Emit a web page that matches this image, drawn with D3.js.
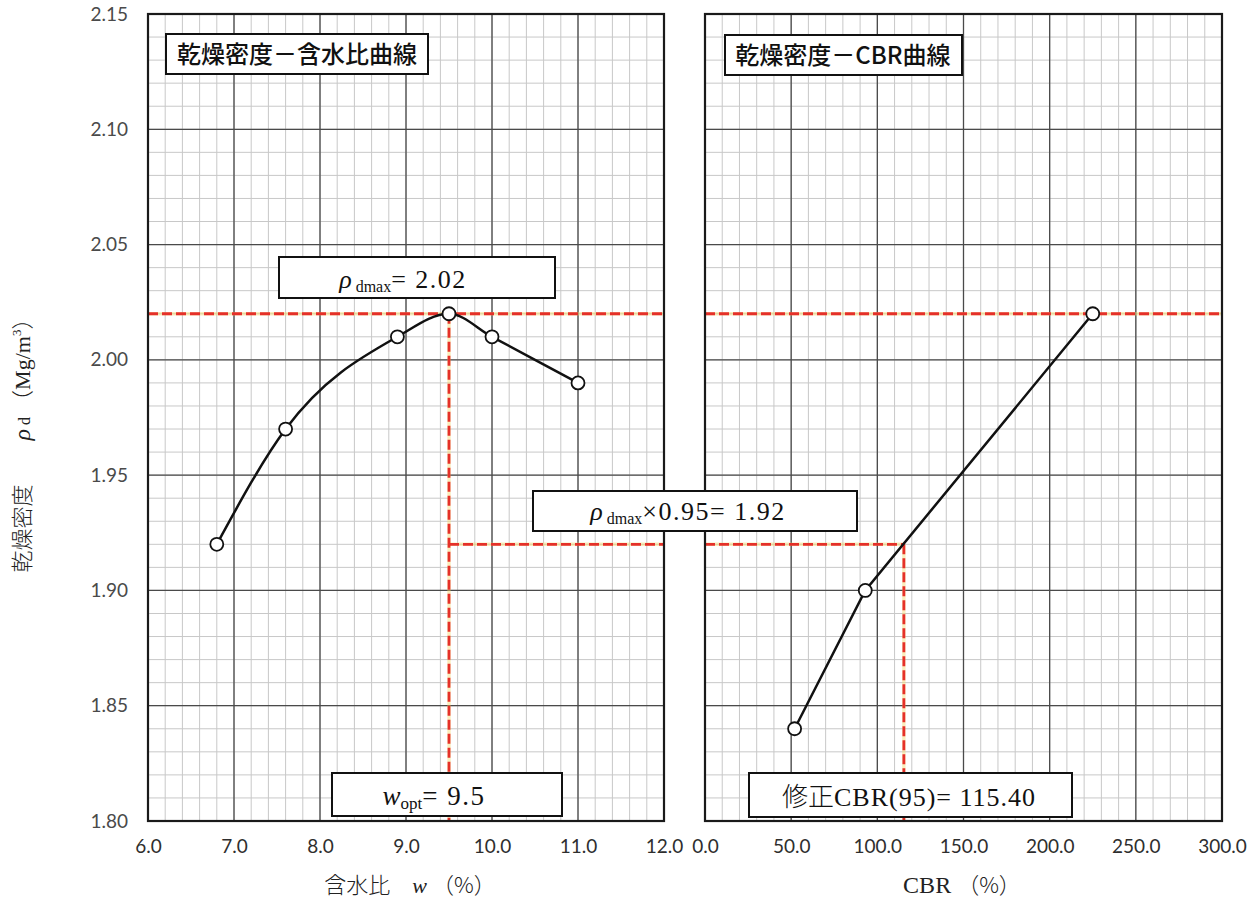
<!DOCTYPE html>
<html><head><meta charset="utf-8">
<script src="https://cdn.jsdelivr.net/npm/d3@7"></script>
<style>
body{margin:0;background:#fff}
svg{display:block}
</style></head><body>
<svg id="chart" width="1255" height="899"></svg>
<script>
// Compaction test: dry density vs water content, and dry density vs CBR
const waterContent = [6.8, 7.6, 8.9, 9.5, 10.0, 11.0];
const densityByWater = [1.92, 1.97, 2.01, 2.02, 2.01, 1.99];
const cbrValues = [52.0, 93.0, 225.0];
const densityByCbr = [1.84, 1.90, 2.02];
const waterTicks = [6, 7, 8, 9, 10, 11, 12];
const cbrTicks = [0, 50, 100, 150, 200, 250, 300];
const densityTicks = [1.80, 1.85, 1.90, 1.95, 2.00, 2.05, 2.10, 2.15];
const rhoDmax = 2.02;
const wOpt = 9.5;
const rho95 = 1.92;
const cbr95 = 115.40;

const serif = "'Liberation Serif','DejaVu Serif',serif";
const cjk = "'Noto Sans CJK JP','Noto Sans CJK SC',sans-serif";
const tickFont = "Lato,'Open Sans',sans-serif";

const svg = d3.select("#chart");
const xW = d3.scaleLinear([6, 12], [148, 664]);
const xC = d3.scaleLinear([0, 300], [705, 1222]);
const y = d3.scaleLinear([1.80, 2.15], [821, 14]);

const panels = [
  {x: xW, minor: d3.range(0, 31).map(i => 6 + i * 0.2), major: waterTicks},
  {x: xC, minor: d3.range(0, 31).map(i => i * 10), major: cbrTicks}
];
const minorY = d3.range(0, 36).map(i => 1.80 + i * 0.01);

panels.forEach(p => {
  const g = svg.append("g");
  const [x0, x1] = p.x.range();
  g.selectAll(".vmin").data(p.minor).join("line")
    .attr("x1", d => p.x(d)).attr("x2", d => p.x(d))
    .attr("y1", y(2.15)).attr("y2", y(1.80))
    .attr("stroke", "#c8c8c8").attr("stroke-width", 1);
  g.selectAll(".hmin").data(minorY).join("line")
    .attr("x1", x0).attr("x2", x1)
    .attr("y1", d => y(d)).attr("y2", d => y(d))
    .attr("stroke", "#c8c8c8").attr("stroke-width", 1);
  g.selectAll(".vmaj").data(p.major).join("line")
    .attr("x1", d => p.x(d)).attr("x2", d => p.x(d))
    .attr("y1", y(2.15)).attr("y2", y(1.80))
    .attr("stroke", "#4a4a4a").attr("stroke-width", 1.3);
  g.selectAll(".hmaj").data(densityTicks).join("line")
    .attr("x1", x0).attr("x2", x1)
    .attr("y1", d => y(d)).attr("y2", d => y(d))
    .attr("stroke", "#4a4a4a").attr("stroke-width", 1.3);
});

// reference lines
const ref = svg.append("g").attr("fill", "none");
const refLines = [
  [xW(6), y(rhoDmax), xW(12), y(rhoDmax)],
  [xC(0), y(rhoDmax), xC(300), y(rhoDmax)],
  [xW(wOpt), y(rhoDmax), xW(wOpt), y(1.80)],
  [xW(wOpt), y(rho95), xW(12), y(rho95)],
  [xC(0), y(rho95), xC(cbr95), y(rho95)],
  [xC(cbr95), y(rho95), xC(cbr95), y(1.80)]
];
ref.selectAll("line.halo").data(refLines).join("line")
  .attr("x1", d => d[0]).attr("y1", d => d[1]).attr("x2", d => d[2]).attr("y2", d => d[3])
  .attr("stroke", "#f3d66a").attr("stroke-width", 3.4).attr("opacity", 0.45);
ref.selectAll("line.red").data(refLines).join("line")
  .attr("x1", d => d[0]).attr("y1", d => d[1]).attr("x2", d => d[2]).attr("y2", d => d[3])
  .attr("stroke", "#e5302a").attr("stroke-width", 2.8).attr("stroke-dasharray", "10,4");

// curves
const wPts = waterContent.map((w, i) => [xW(w), y(densityByWater[i])]);
const cPts = cbrValues.map((c, i) => [xC(c), y(densityByCbr[i])]);
svg.append("path").attr("d", d3.line().curve(d3.curveMonotoneX)(wPts))
  .attr("fill", "none").attr("stroke", "#111").attr("stroke-width", 2.5);
svg.append("path").attr("d", d3.line()(cPts))
  .attr("fill", "none").attr("stroke", "#111").attr("stroke-width", 2.5);
svg.selectAll("circle.pt").data(wPts.concat(cPts)).join("circle")
  .attr("cx", d => d[0]).attr("cy", d => d[1]).attr("r", 6.5)
  .attr("fill", "#fff").attr("stroke", "#111").attr("stroke-width", 1.8);

// panel frames
[[xW, 6, 12], [xC, 0, 300]].forEach(([sx, a, b]) => {
  svg.append("rect").attr("x", sx(a)).attr("y", y(2.15))
    .attr("width", sx(b) - sx(a)).attr("height", y(1.80) - y(2.15))
    .attr("fill", "none").attr("stroke", "#1a1a1a").attr("stroke-width", 2.2);
});

// axes
const yAxis = svg.append("g").attr("transform", `translate(${xW(6)},0)`)
  .call(d3.axisLeft(y).tickValues(densityTicks).tickFormat(d3.format(".2f")).tickSize(0).tickPadding(20));
const xAxisW = svg.append("g").attr("transform", `translate(0,${y(1.80)})`)
  .call(d3.axisBottom(xW).tickValues(waterTicks).tickFormat(d3.format(".1f")).tickSize(0).tickPadding(19));
const xAxisC = svg.append("g").attr("transform", `translate(0,${y(1.80)})`)
  .call(d3.axisBottom(xC).tickValues(cbrTicks).tickFormat(d3.format(".1f")).tickSize(0).tickPadding(19));
yAxis.select(".domain").remove();
yAxis.selectAll("text").attr("font-family", tickFont).attr("font-size", 19).attr("fill", "#4a4a4a");
[xAxisW, xAxisC].forEach(a => {
  a.select(".domain").remove();
  a.selectAll("text").attr("font-family", tickFont).attr("font-size", 19).attr("fill", "#2e2e2e");
});

// boxes with labels
function box(x, y0, w, h) {
  svg.append("rect").attr("x", x).attr("y", y0).attr("width", w).attr("height", h)
    .attr("fill", "#fff").attr("stroke", "#111").attr("stroke-width", 2);
}
box(166, 34, 262, 40);
svg.append("text").attr("x", 297).attr("y", 63).attr("text-anchor", "middle")
  .attr("font-family", cjk).attr("font-size", 24).attr("font-weight", 500).attr("fill", "#111")
  .text("乾燥密度－含水比曲線");
box(725, 35, 237, 40);
svg.append("text").attr("x", 843).attr("y", 64).attr("text-anchor", "middle")
  .attr("font-family", cjk).attr("font-size", 24).attr("font-weight", 500).attr("fill", "#111")
  .text("乾燥密度－CBR曲線");

box(279, 257, 276, 41);
const t1 = svg.append("text").attr("x", 403).attr("y", 288).attr("text-anchor", "middle")
  .attr("font-family", serif).attr("font-size", 26).attr("fill", "#111");
t1.append("tspan").attr("font-style", "italic").text("ρ");
t1.append("tspan").attr("font-size", 16).attr("dy", 4).text(" dmax");
t1.append("tspan").attr("dy", -4).attr("letter-spacing", 1.5).text(`= ${d3.format(".2f")(rhoDmax)}`);

box(533, 491, 324, 40);
const t2 = svg.append("text").attr("x", 688).attr("y", 520).attr("text-anchor", "middle")
  .attr("font-family", serif).attr("font-size", 26).attr("fill", "#111");
t2.append("tspan").attr("font-style", "italic").text("ρ");
t2.append("tspan").attr("font-size", 16).attr("dy", 4).text(" dmax");
t2.append("tspan").attr("dy", -4).attr("letter-spacing", 1.5).text(`×0.95= ${d3.format(".2f")(rho95)}`);

box(332, 773, 230, 43);
const t3 = svg.append("text").attr("x", 434).attr("y", 805).attr("text-anchor", "middle")
  .attr("font-family", serif).attr("font-size", 27).attr("fill", "#111");
t3.append("tspan").attr("font-style", "italic").text("w");
t3.append("tspan").attr("font-size", 17).attr("dy", 4).text("opt");
t3.append("tspan").attr("dy", -4).attr("letter-spacing", 1.5).text(`= ${d3.format(".1f")(wOpt)}`);

box(749, 773, 323, 44);
const t4 = svg.append("text").attr("x", 909).attr("y", 806).attr("text-anchor", "middle")
  .attr("font-family", serif).attr("font-size", 26).attr("fill", "#111");
t4.append("tspan").attr("font-family", cjk).attr("font-weight", 300).text("修正");
t4.append("tspan").attr("letter-spacing", 1).text(`CBR(95)= ${d3.format(".2f")(cbr95)}`);

// axis titles
const xt1 = svg.append("text").attr("x", 410).attr("y", 893).attr("text-anchor", "middle")
  .attr("font-size", 22).attr("fill", "#222");
xt1.append("tspan").attr("font-family", cjk).attr("font-weight", 300).text("含水比　");
xt1.append("tspan").attr("font-family", serif).attr("font-style", "italic").text("w");
xt1.append("tspan").attr("font-family", cjk).attr("font-weight", 300).text(" （%）");

const xt2 = svg.append("text").attr("x", 962).attr("y", 893).attr("text-anchor", "middle")
  .attr("font-size", 22).attr("fill", "#222");
xt2.append("tspan").attr("font-family", serif).attr("font-size", 24).text("CBR ");
xt2.append("tspan").attr("font-family", cjk).attr("font-weight", 300).text("（%）");

const yt = svg.append("text").attr("transform", "translate(30,440) rotate(-90)")
  .attr("text-anchor", "middle").attr("font-size", 22).attr("fill", "#222");
yt.append("tspan").attr("font-family", cjk).attr("font-weight", 300).text("乾燥密度　　");
yt.append("tspan").attr("font-family", serif).attr("font-style", "italic").attr("font-size", 24).text("ρ");
yt.append("tspan").attr("font-family", serif).attr("font-size", 16).text(" d　");
yt.append("tspan").attr("font-family", cjk).attr("font-weight", 300).text("（");
yt.append("tspan").attr("font-family", serif).text("Mg/m");
yt.append("tspan").attr("font-family", serif).attr("font-size", 13).attr("dy", -9).text("3");
yt.append("tspan").attr("font-family", cjk).attr("font-weight", 300).attr("dy", 9).text("）");
</script>
</body></html>
